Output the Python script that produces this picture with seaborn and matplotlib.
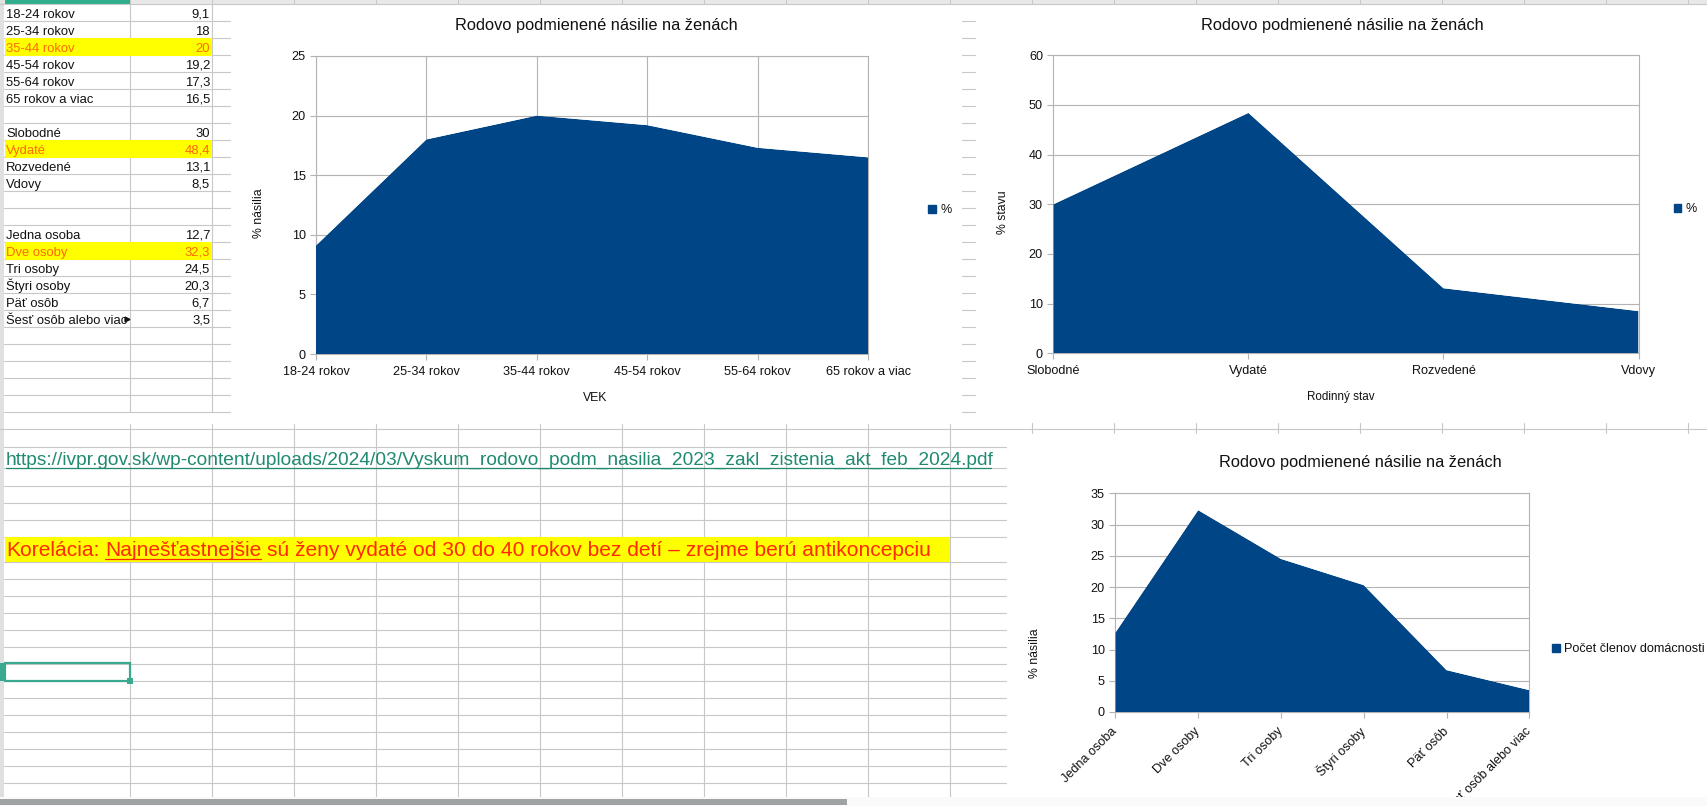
import matplotlib
matplotlib.use('Agg')
import matplotlib.pyplot as plt
from matplotlib.patches import Patch, Rectangle
import pandas as pd
import seaborn as sns
import seaborn.objects as so

# data read from the sheet
age_labels = ['18-24 rokov', '25-34 rokov', '35-44 rokov', '45-54 rokov', '55-64 rokov', '65 rokov a viac']
age_values = [9.1, 18, 20, 19.2, 17.3, 16.5]
status_labels = ['Slobodné', 'Vydaté', 'Rozvedené', 'Vdovy']
status_values = [30, 48.4, 13.1, 8.5]
house_labels = ['Jedna osoba', 'Dve osoby', 'Tri osoby', 'Štyri osoby', 'Päť osôb', 'Šesť osôb alebo viac']
house_values = [12.7, 32.3, 24.5, 20.3, 6.7, 3.5]

name_cells = ['18-24 rokov', '25-34 rokov', '35-44 rokov', '45-54 rokov', '55-64 rokov', '65 rokov a viac', '',
              'Slobodné', 'Vydaté', 'Rozvedené', 'Vdovy', '', '',
              'Jedna osoba', 'Dve osoby', 'Tri osoby', 'Štyri osoby', 'Päť osôb', 'Šesť osôb alebo viac']
value_cells = ['9,1', '18', '20', '19,2', '17,3', '16,5', '', '30', '48,4', '13,1', '8,5', '', '',
               '12,7', '32,3', '24,5', '20,3', '6,7', '3,5']
marked_rows = [2, 8, 14]

TITLE = 'Rodovo podmienené násilie na ženách'
LINK = 'https://ivpr.gov.sk/wp-content/uploads/2024/03/Vyskum_rodovo_podm_nasilia_2023_zakl_zistenia_akt_feb_2024.pdf'
BLUE = '#004586'
GRID = '#b3b3b3'
SHEET = '#c8c8c8'
TEAL = '#3aa98f'
W, H = 1707, 806
TICK_SIZE = 9.05

sns.set_theme(style='white')
plt.rcParams['font.family'] = ['Liberation Sans', 'DejaVu Sans']
plt.rcParams['text.color'] = '#111111'

fig = plt.figure(figsize=(W / 100, H / 100), dpi=100, facecolor='white')

# the spreadsheet behind the charts, in pixels
sheet = fig.add_axes([0, 0, 1, 1])
sheet.set_xlim(0, W)
sheet.set_ylim(H, 0)
sheet.axis('off')

sheet.add_patch(Rectangle((0, 0), W, 4.3, color='#e8e8e8', lw=0))
sheet.add_patch(Rectangle((5, 0), 125, 4.3, color='#2fae8c', lw=0))
sheet.add_patch(Rectangle((0, 0), 4, 797, color='#e0e0e0', lw=0))
sheet.plot([0, W], [4.3, 4.3], color=SHEET, lw=0.8)
for i in range(0, 20):
    sheet.plot([129.5 + 82 * i] * 2, [0, 4.3], color=SHEET, lw=0.8)

# top left table
for i in range(24):
    y = 21.3 + 17 * i
    sheet.plot([4, 230], [y, y], color=SHEET, lw=0.8)
for x in [129.5, 211.7]:
    sheet.plot([x, x], [4, 412], color=SHEET, lw=0.8)
for r in marked_rows:
    sheet.add_patch(Rectangle((5, 4.3 + 17 * r), 206.7, 17.6, color='#ffff00', lw=0, zorder=2))
for i, (name, val) in enumerate(zip(name_cells, value_cells)):
    col = '#ff6a00' if i in marked_rows else '#111111'
    y = 17.7 + 17 * i
    sheet.text(6.3, y, name, fontsize=9.4, color=col, va='baseline', zorder=3)
    sheet.text(210, y, val, fontsize=9.4, color=col, va='baseline', ha='right', zorder=3)
# overflow mark of the long cell
sheet.plot([127], [4.3 + 17 * 18 + 8.5], marker='>', ms=3.5, color='#111111', zorder=4)

# short stubs of the sheet visible between the two upper charts
for i in range(24):
    y = 21.3 + 17 * i
    sheet.plot([962, 975], [y, y], color=SHEET, lw=0.8)

# line and ticks under the upper charts
sheet.plot([0, W], [429.3, 429.3], color=SHEET, lw=0.8)
for i in range(0, 20):
    x = 129.5 + 82 * i
    if x > 1000:
        sheet.plot([x, x], [423, 433], color=SHEET, lw=0.8)
    else:
        sheet.plot([x, x], [424, 797], color=SHEET, lw=0.8)

# lower left grid
low_rows = [446.5, 467.7, 486.3, 503.3, 520.3, 537.3, 561.7] + [578.6 + 17 * i for i in range(13)]
for y in low_rows:
    sheet.plot([4, 1006], [y, y], color=SHEET, lw=0.8)

sheet.text(6, 460, LINK, fontsize=13.8, color='#1f8a70', va='center', zorder=3)
sheet.plot([6, 991], [467.6, 467.6], color='#1f8a70', lw=0.9, zorder=3)

sheet.add_patch(Rectangle((5, 537.3), 945, 24.4, color='#ffff00', lw=0, zorder=2))
sheet.text(6, 551, 'Korelácia:', fontsize=15.1, color='#ff2a00', va='center', zorder=3)
sheet.text(105, 551, 'Najnešťastnejšie', fontsize=15.1, color='#ff2a00', va='center', zorder=3)
sheet.plot([105, 261], [558.5, 558.5], color='#ff2a00', lw=0.9, zorder=3)
sheet.text(267, 551, 'sú ženy vydaté od 30 do 40 rokov bez detí – zrejme berú antikoncepciu',
           fontsize=15.1, color='#ff2a00', va='center', zorder=3)

# selected cell
sheet.add_patch(Rectangle((5, 662.7), 125, 18.3, fill=False, ec=TEAL, lw=1.6, zorder=3))
sheet.add_patch(Rectangle((127, 678), 6, 6, color=TEAL, lw=0, zorder=3))
sheet.add_patch(Rectangle((0, 662.7), 4, 18.3, color=TEAL, lw=0, zorder=3))


def area_chart(box, labels, values, y_max, y_step, name, legend_xy):
    left, top, right, bottom = box
    ax = fig.add_axes([left / W, 1 - bottom / H, (right - left) / W, (bottom - top) / H])
    df = pd.DataFrame({'label': labels, 'value': values})
    so.Plot(df, x='label', y='value').add(so.Area(color=BLUE, alpha=1, edgewidth=0)).on(ax).plot()
    ax.set_xlim(0, len(labels) - 1)
    ax.set_ylim(0, y_max)
    ax.set_yticks(range(0, y_max + 1, y_step))
    ax.set_facecolor('white')
    ax.set_axisbelow(True)
    ax.grid(False)
    ax.yaxis.grid(True, color=GRID, lw=0.8)
    ax.tick_params(axis='both', length=4.5, width=0.8, color=GRID, labelsize=TICK_SIZE, labelcolor='#111111',
                   pad=3, bottom=True, left=True)
    ax.tick_params(axis='x', pad=4)
    ax.set_xlabel('')
    ax.set_ylabel('')
    for s in ax.spines.values():
        s.set_visible(True)
        s.set_color(GRID)
        s.set_linewidth(0.8)
        s.set_zorder(0.5)
    ax.legend(handles=[Patch(color=BLUE, label=name)], frameon=False, fontsize=TICK_SIZE, loc='center left',
              handlelength=0.62, handleheight=0.62, handletextpad=0.35, borderpad=0, borderaxespad=0,
              bbox_transform=sheet.transData, bbox_to_anchor=legend_xy)
    return ax


# age chart
ax1 = area_chart((316, 56, 868, 354), age_labels, age_values, 25, 5, '%', (928, 210))
ax1.xaxis.grid(True, color=GRID, lw=0.8)
sheet.text(596.5, 25.7, TITLE, fontsize=11.8, ha='center', va='center')
sheet.text(258.5, 213, '% násilia', fontsize=8.8, rotation=90, ha='center', va='center')
sheet.text(595.5, 398, 'VEK', fontsize=8.8, ha='center', va='center')

# marital status chart
ax2 = area_chart((1053.4, 55.3, 1638.5, 353.3), status_labels, status_values, 60, 10, '%', (1673.5, 209))
sheet.text(1342, 25.7, TITLE, fontsize=11.8, ha='center', va='center')
sheet.text(1003.5, 212.5, '% stavu', fontsize=8.8, rotation=90, ha='center', va='center')
sheet.text(1340.5, 397, 'Rodinný stav', fontsize=8.4, ha='center', va='center')

# household chart
ax3 = area_chart((1115.4, 493.3, 1529.3, 712), house_labels, house_values, 35, 5, 'Počet členov domácnosti',
                 (1552, 649.5))
ax3.tick_params(axis='x', labelrotation=45, pad=8)
for lab in ax3.get_xticklabels():
    lab.set_ha('right')
    lab.set_va('center')
    lab.set_rotation_mode('anchor')
sheet.text(1360.7, 463, TITLE, fontsize=11.8, ha='center', va='center')
sheet.text(1035, 652.7, '% násilia', fontsize=8.8, rotation=90, ha='center', va='center')

# bottom band with the scrollbar covers the end of the long label
fig.add_artist(Rectangle((0, 0), 1, 9.5 / H, transform=fig.transFigure, color='#fafafa', lw=0, zorder=5))
fig.add_artist(Rectangle((0, 1 / H), 847 / W, 6 / H, transform=fig.transFigure, color='#9fa3a3', lw=0, zorder=6))

fig.savefig('out.png', dpi=100)
